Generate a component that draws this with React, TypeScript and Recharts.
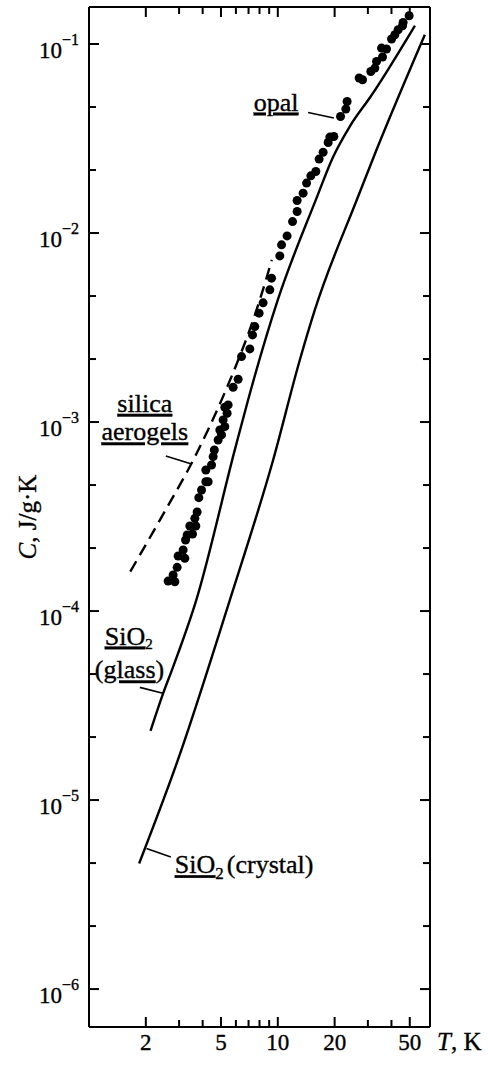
import React from 'react';
import { ComposedChart, Line, Scatter, XAxis, YAxis, ReferenceLine, ReferenceDot } from 'recharts';

const FONT = '"Liberation Serif", "Times New Roman", "DejaVu Serif", serif';

// ---- axes ----
const X_DOMAIN: [number, number] = [1, 64];
const Y_DOMAIN: [number, number] = [6.3e-7, 0.157];
const X_TICKS = [2, 3, 4, 5, 6, 7, 8, 9, 10, 20, 30, 40, 50];
const X_LABELS = [2, 5, 10, 20, 50];
const Y_DECADES = [-6, -5, -4, -3, -2, -1];
const Y_TICKS = Y_DECADES.flatMap((e) => [0, 1, 2].map((k) => Math.pow(10, e + k / 3))).filter((v) => v <= 0.1000001);

// ---- series ----
const OPAL_T = [2.625, 2.849, 2.79, 2.93, 2.966, 3.218, 3.152, 3.246, 3.31, 3.534, 3.42, 3.68, 3.636, 3.739, 3.817, 3.945, 4.158, 4.276, 4.158, 4.457, 4.545, 4.611, 4.83, 5.035, 4.931, 5.241, 5.133, 5.39, 5.241, 5.457, 5.8, 6.165, 6.425, 7.11, 7.347, 7.556, 7.962, 8.36, 9.074, 9.264, 10.25, 10.47, 11.2, 11.97, 12.66, 12.66, 13.62, 14.2, 14.96, 15.9, 16.55, 17.38, 18.48, 18.86, 19.81, 21.49, 22.93, 23.29, 26.97, 28.11, 31.1, 32.66, 33.34, 35.87, 35.43, 37.66, 40.04, 41.69, 43.39, 45.78, 46.12, 49.63];
const OPAL_C = [1.441e-4, 1.429e-4, 1.551e-4, 1.703e-4, 1.955e-4, 1.901e-4, 2.103e-4, 2.376e-4, 2.525e-4, 2.556e-4, 2.818e-4, 2.818e-4, 3.095e-4, 3.343e-4, 3.979e-4, 4.369e-4, 4.835e-4, 4.835e-4, 5.578e-4, 5.928e-4, 6.559e-4, 7.117e-4, 8.04e-4, 8.55e-4, 9.08e-4, 9.45e-4, 1.026e-3, 1.113e-3, 1.198e-3, 1.232e-3, 1.528e-3, 1.685e-3, 2.22e-3, 2.438e-3, 2.891e-3, 3.199e-3, 3.767e-3, 4.272e-3, 5.004e-3, 5.77e-3, 7.57e-3, 8.66e-3, 9.66e-3, 1.15e-2, 1.3e-2, 1.486e-2, 1.626e-2, 1.837e-2, 2.008e-2, 2.117e-2, 2.461e-2, 2.674e-2, 3.014e-2, 3.219e-2, 3.243e-2, 4.136e-2, 4.529e-2, 4.967e-2, 6.607e-2, 6.47e-2, 7.16e-2, 7.46e-2, 8.09e-2, 8.54e-2, 9.52e-2, 9.41e-2, 0.1063, 0.112, 0.119, 0.125, 0.1301, 0.1412];

const AEROGEL_T = [1.655, 2.373, 3.68, 5.04, 8.03, 9.3];
const AEROGEL_C = [1.618e-4, 3.03e-4, 6.7e-4, 1.31e-3, 4.43e-3, 7.21e-3];

const GLASS_T = [2.118, 2.47, 2.79, 3.7, 5.92, 6.96, 10.0, 15.9, 19.6, 24.0, 31.5, 53.2];
const GLASS_C = [2.324e-5, 3.667e-5, 5.07e-5, 1.143e-4, 7.12e-4, 1.309e-3, 4.43e-3, 0.01498, 0.0252, 0.0365, 0.0539, 0.125];

const CRYSTAL_T = [1.843, 2.954, 5.57, 9.447, 13.08, 15.71, 26.22, 33.34, 60.1];
const CRYSTAL_C = [4.62e-6, 1.626e-5, 1.143e-4, 6.3e-4, 2.13e-3, 3.92e-3, 0.015, 0.02757, 0.112];

// ---- annotations (anchors in data units) ----
const OPAL_LEADER = [{ x: 14.47, y: 0.04344 }, { x: 19.81, y: 0.04057 }];
const AEROGEL_LEADER = [{ x: 2.553, y: 6.615e-4 }, { x: 3.493, y: 6.0e-4 }];
const GLASS_LEADER = [{ x: 1.859, y: 3.946e-5 }, { x: 2.491, y: 3.667e-5 }];
const CRYSTAL_LEADER = [{ x: 2.017, y: 5.54e-6 }, { x: 2.713, y: 5.0e-6 }];

const OPAL_TEXT = { T: 7.46, C: 0.0444 };
const SILICA_TEXT = { T: 1.975, C: 1.131e-3 };
const AEROGELS_TEXT = { T: 1.975, C: 7.99e-4 };
const SIO2_GLASS_TEXT = { T: 1.213, C: 6.646e-5 };
const GLASS_TEXT = { T: 1.074, C: 4.4e-5 };
const CRYSTAL_TEXT = { T: 2.849, C: 4.1e-6 };

const ANN_SIZE = 26;
const UL = { textDecoration: 'underline' } as React.CSSProperties;
const INK = { stroke: '#000', strokeWidth: 0.35 };

const isDecade = (v: number) => Math.abs(Math.log10(v) - Math.round(Math.log10(v))) < 1e-6;

function BottomTick(p: any) {
  const v = p.payload.value;
  const major = X_LABELS.includes(v);
  return (
    <g>
      <line x1={p.x} x2={p.x} y1={p.y} y2={p.y - (major ? 10 : 7)} stroke="#000" strokeWidth={2} />
      {major && (
        <text x={p.x} y={p.y + 23} textAnchor="middle" fontFamily={FONT} fontSize={23} fill="#000" {...INK}>
          {v}
        </text>
      )}
    </g>
  );
}

function TopTick(p: any) {
  const v = p.payload.value;
  const major = X_LABELS.includes(v);
  return <line x1={p.x} x2={p.x} y1={p.y} y2={p.y + (major ? 10 : 7)} stroke="#000" strokeWidth={2} />;
}

function LeftTick(p: any) {
  const v = p.payload.value;
  const major = isDecade(v);
  const exp = Math.round(Math.log10(v));
  return (
    <g>
      <line x1={p.x} x2={p.x + (major ? 10 : 7)} y1={p.y} y2={p.y} stroke="#000" strokeWidth={2} />
      {major && (
        <text x={p.x - 10} y={p.y + 14} textAnchor="end" fontFamily={FONT} fontSize={23} fill="#000" {...INK}>
          10
          <tspan dy={-13} fontSize={16}>
            {'\u2212' + String(-exp)}
          </tspan>
        </text>
      )}
    </g>
  );
}

function RightTick(p: any) {
  const v = p.payload.value;
  const major = isDecade(v);
  return <line x1={p.x} x2={p.x - (major ? 10 : 7)} y1={p.y} y2={p.y} stroke="#000" strokeWidth={2} />;
}

const Dot = (p: any) => <circle cx={p.cx} cy={p.cy} r={4.5} fill="#000" />;

const txt = (content: React.ReactNode, anchor: 'start' | 'middle' = 'start') => (p: any) => (
  <text x={p.cx} y={p.cy} textAnchor={anchor} fontFamily={FONT} fontSize={ANN_SIZE} fill="#000" {...INK}>
    {content}
  </text>
);

export default function App() {
  const opal = OPAL_T.map((T, i) => ({ T, C: OPAL_C[i] }));
  const aerogel = AEROGEL_T.map((T, i) => ({ T, C: AEROGEL_C[i] }));
  const glass = GLASS_T.map((T, i) => ({ T, C: GLASS_C[i] }));
  const crystal = CRYSTAL_T.map((T, i) => ({ T, C: CRYSTAL_C[i] }));
  const axisLine = { stroke: '#000', strokeWidth: 2 };
  const ids = { xAxisId: 'b', yAxisId: 'l' };

  return (
    <div style={{ position: 'absolute', left: 0, top: 0, background: '#fff' }}>
      <ComposedChart width={488} height={1065} margin={{ top: 2, right: 48, bottom: 8, left: 29 }}>
        <XAxis
          xAxisId="b"
          orientation="bottom"
          type="number"
          dataKey="T"
          scale="log"
          domain={X_DOMAIN}
          allowDataOverflow
          ticks={X_TICKS}
          interval={0}
          tickSize={0}
          tickMargin={0}
          tickLine={false}
          tick={BottomTick}
          axisLine={axisLine}
          height={30}
          label={{
            content: (lp: any) => {
              const vb = lp.viewBox || {};
              return (
                <text x={vb.x + vb.width + 7} y={vb.y + 23} fontFamily={FONT} fontSize={25} fill="#000" {...INK}>
                  <tspan fontStyle="italic">T</tspan>, K
                </text>
              );
            },
          }}
        />
        <XAxis
          xAxisId="t"
          orientation="top"
          type="number"
          dataKey="T"
          scale="log"
          domain={X_DOMAIN}
          allowDataOverflow
          ticks={X_TICKS}
          interval={0}
          tickSize={0}
          tickMargin={0}
          tickLine={false}
          tick={TopTick}
          axisLine={axisLine}
          height={5}
        />
        <YAxis
          yAxisId="l"
          orientation="left"
          type="number"
          scale="log"
          domain={Y_DOMAIN}
          allowDataOverflow
          ticks={Y_TICKS}
          interval={0}
          tickSize={0}
          tickMargin={0}
          tickLine={false}
          tick={LeftTick}
          axisLine={axisLine}
          width={60}
          label={{
            content: (lp: any) => {
              const vb = lp.viewBox || {};
              const cx = vb.x - 2;
              const cy = vb.y + vb.height / 2;
              return (
                <text
                  x={cx}
                  y={cy}
                  transform={`rotate(-90, ${cx}, ${cy})`}
                  textAnchor="middle"
                  dominantBaseline="central"
                  fontFamily={FONT}
                  fontSize={25}
                  fill="#000"
                  {...INK}
                >
                  <tspan fontStyle="italic">C</tspan>, J/g·K
                </text>
              );
            },
          }}
        />
        <YAxis
          yAxisId="r"
          orientation="right"
          type="number"
          scale="log"
          domain={Y_DOMAIN}
          allowDataOverflow
          ticks={Y_TICKS}
          interval={0}
          tickSize={0}
          tickMargin={0}
          tickLine={false}
          tick={RightTick}
          axisLine={axisLine}
          width={10}
        />

        <Line {...ids} data={crystal} dataKey="C" type="monotone" stroke="#000" strokeWidth={2.4} dot={false} isAnimationActive={false} />
        <Line {...ids} data={glass} dataKey="C" type="monotone" stroke="#000" strokeWidth={2.4} dot={false} isAnimationActive={false} />
        <Line {...ids} data={aerogel} dataKey="C" type="monotone" stroke="#000" strokeWidth={2.4} strokeDasharray="12 7" dot={false} isAnimationActive={false} />
        <Scatter {...ids} data={opal} dataKey="C" shape={Dot} isAnimationActive={false} />

        <ReferenceLine {...ids} segment={OPAL_LEADER} stroke="#000" strokeWidth={1.6} ifOverflow="visible" />
        <ReferenceLine {...ids} segment={AEROGEL_LEADER} stroke="#000" strokeWidth={1.6} ifOverflow="visible" />
        <ReferenceLine {...ids} segment={GLASS_LEADER} stroke="#000" strokeWidth={1.6} ifOverflow="visible" />
        <ReferenceLine {...ids} segment={CRYSTAL_LEADER} stroke="#000" strokeWidth={1.6} ifOverflow="visible" />

        <ReferenceDot {...ids} x={OPAL_TEXT.T} y={OPAL_TEXT.C} r={0} ifOverflow="visible" shape={txt(<tspan style={UL}>opal</tspan>)} />
        <ReferenceDot {...ids} x={SILICA_TEXT.T} y={SILICA_TEXT.C} r={0} ifOverflow="visible" shape={txt(<tspan style={UL}>silica</tspan>, 'middle')} />
        <ReferenceDot {...ids} x={AEROGELS_TEXT.T} y={AEROGELS_TEXT.C} r={0} ifOverflow="visible" shape={txt(<tspan style={UL}>aerogels</tspan>, 'middle')} />
        <ReferenceDot
          {...ids}
          x={SIO2_GLASS_TEXT.T}
          y={SIO2_GLASS_TEXT.C}
          r={0}
          ifOverflow="visible"
          shape={txt(
            <>
              <tspan style={UL}>SiO</tspan>
              <tspan dy={4} fontSize={15}>2</tspan>
            </>
          )}
        />
        <ReferenceDot
          {...ids}
          x={GLASS_TEXT.T}
          y={GLASS_TEXT.C}
          r={0}
          ifOverflow="visible"
          shape={txt(
            <>
              (<tspan style={UL}>glass</tspan>)
            </>
          )}
        />
        <ReferenceDot
          {...ids}
          x={CRYSTAL_TEXT.T}
          y={CRYSTAL_TEXT.C}
          r={0}
          ifOverflow="visible"
          shape={txt(
            <>
              <tspan style={UL}>SiO</tspan>
              <tspan dy={6} fontSize={17}>2</tspan>
              <tspan dy={-6} dx={3}>(crystal)</tspan>
            </>
          )}
        />
      </ComposedChart>
    </div>
  );
}
